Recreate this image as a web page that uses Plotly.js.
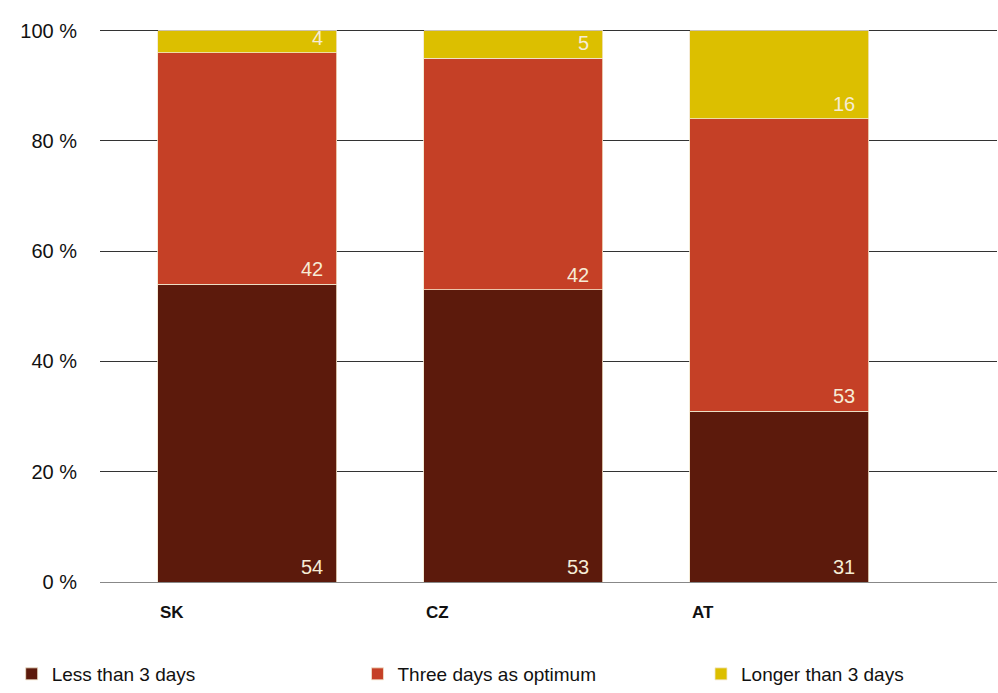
<!DOCTYPE html>
<html>
<head>
<meta charset="utf-8">
<script src="https://cdn.plot.ly/plotly-3.0.1.min.js"></script>
<style>html,body{margin:0;padding:0;background:#fff;}#chart{width:998px;height:693px;}</style>
</head>
<body>
<div id="chart"></div>
<script>
const categories = ['SK', 'CZ', 'AT'];
const seriesNames = ['Less than 3 days', 'Three days as optimum', 'Longer than 3 days'];
const lessThan3 = [54, 53, 31];
const threeDays = [42, 42, 53];
const longerThan3 = [4, 5, 16];
const yTicks = [0, 20, 40, 60, 80, 100];
const yTickText = ['0 %', '20 %', '40 %', '60 %', '80 %', '100 %'];
const colors = ['#5c1a0c', '#c54026', '#dcbf00'];

const seriesValues = [lessThan3, threeDays, longerThan3];
const barWidth = 0.673;
const font = 'Liberation Sans, Arial, Helvetica, sans-serif';
const legendIds = ['legend', 'legend2', 'legend3'];
const legendX = [0.0117, 0.3582, 0.7024];

const traces = seriesValues.map((vals, k) => ({
  type: 'bar',
  name: seriesNames[k],
  x: categories,
  y: vals,
  width: barWidth,
  legend: legendIds[k],
  marker: {color: colors[k], line: {color: '#f3e6cc', width: 0.8}},
  hoverinfo: 'x+y'
}));

const annotations = [];
categories.forEach((c, i) => {
  let base = 0;
  seriesValues.forEach((vals, k) => {
    annotations.push({
      x: i + barWidth / 2, y: base, xref: 'x', yref: 'y',
      text: String(vals[i]), showarrow: false,
      xanchor: 'right', yanchor: 'bottom', xshift: -12, yshift: 2,
      font: {family: font, size: 20, color: '#f6ecd6'}
    });
    base += vals[i];
  });
  annotations.push({
    x: i - barWidth / 2, y: -0.0547, xref: 'x', yref: 'paper',
    text: '<b>' + c + '</b>', showarrow: false,
    xanchor: 'left', yanchor: 'middle',
    font: {family: font, size: 17, color: '#111'}
  });
});

const layout = {
  width: 998, height: 693,
  margin: {l: 100, r: 1, t: 25, b: 110.5, autoexpand: false},
  paper_bgcolor: '#fff', plot_bgcolor: '#fff',
  barmode: 'stack',
  font: {family: font, color: '#111'},
  xaxis: {
    type: 'category', range: [-0.5545, 2.818],
    showticklabels: false, showgrid: false, zeroline: false, showline: false, ticks: ''
  },
  yaxis: {
    range: [0, 101], tickmode: 'array', tickvals: yTicks, ticktext: yTickText,
    showgrid: true, gridcolor: '#333', gridwidth: 1,
    zeroline: true, zerolinecolor: '#888', zerolinewidth: 1,
    ticks: '', ticklabelstandoff: 22,
    tickfont: {family: font, size: 20, color: '#111'}
  },
  showlegend: true,
  annotations: annotations
};
legendIds.forEach((id, k) => {
  layout[id] = {
    orientation: 'h', xref: 'container', yref: 'container',
    x: legendX[k], xanchor: 'left', y: -0.011, yanchor: 'bottom',
    bgcolor: 'rgba(0,0,0,0)',
    font: {family: font, size: 19, color: '#111'}
  };
});

Plotly.newPlot('chart', traces, layout, {displayModeBar: false, staticPlot: true});
</script>
</body>
</html>
